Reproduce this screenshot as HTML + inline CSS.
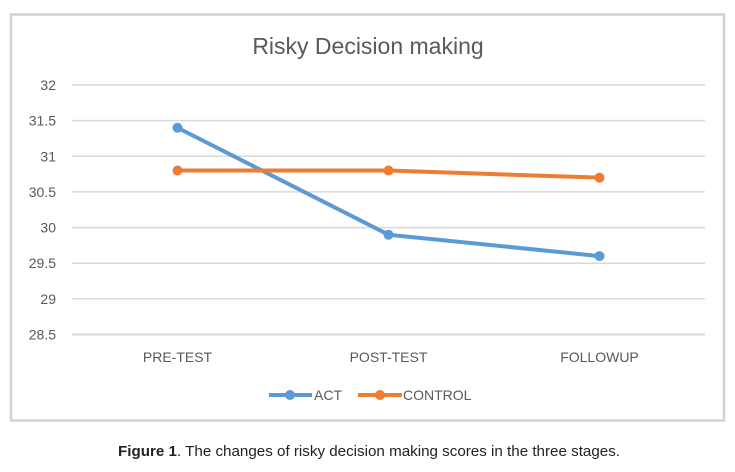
<!DOCTYPE html>
<html><head><meta charset="utf-8"><style>
body{margin:0;background:#fff;width:735px;height:467px;overflow:hidden}
svg text{font-family:"Liberation Sans",sans-serif}
</style></head><body>
<svg width="735" height="467">
<rect x="11" y="14.5" width="713" height="406" fill="#fff" stroke="#d0d3d6" stroke-width="2.5"/>
<text x="368" y="54" text-anchor="middle" font-size="23" fill="#595959">Risky Decision making</text>
<g id="grid"></g><g id="series"></g>
<g>
<g><line x1="269" y1="395" x2="312" y2="395" stroke="#5b9bd5" stroke-width="4"/><circle cx="290" cy="395" r="5" fill="#5b9bd5"/><text x="314" y="400" font-size="14" fill="#595959">ACT</text></g>
<g><line x1="358" y1="395" x2="402" y2="395" stroke="#ed7d31" stroke-width="4"/><circle cx="380" cy="395" r="5" fill="#ed7d31"/><text x="403" y="400" font-size="14" fill="#595959">CONTROL</text></g>
</g>
<text x="369" y="456" text-anchor="middle" font-size="15" fill="#222" textLength="502" lengthAdjust="spacingAndGlyphs"><tspan font-weight="bold">Figure 1</tspan>. The changes of risky decision making scores in the three stages.</text>
</svg>
<script>
const categories=["PRE-TEST","POST-TEST","FOLLOWUP"];
const actValues=[31.4,29.9,29.6];
const controlValues=[30.8,30.8,30.7];
const yTicks=[28.5,29,29.5,30,30.5,31,31.5,32];
const ns="http://www.w3.org/2000/svg";
const L=72,R=705,yMin=28.5,yMax=32,yTop=85,yBot=334.5;
const y=v=>yBot-(v-yMin)/(yMax-yMin)*(yBot-yTop);
const x=i=>L+(R-L)/categories.length*(i+0.5);
function mk(t,a,p){const e=document.createElementNS(ns,t);for(const k in a)e.setAttribute(k,a[k]);p.appendChild(e);return e;}
const g=document.getElementById('grid'),s=document.getElementById('series');
yTicks.forEach(v=>{
 const l=mk('line',{x1:L,x2:R,y1:y(v),y2:y(v),stroke:'#d9d9d9','stroke-width':v===yMin?2:1.5},g);
 
 
 const t=mk('text',{x:56,y:y(v)+5,'text-anchor':'end','font-size':14,fill:'#595959'},g);t.textContent=String(v);
 
 
});
categories.forEach((c,i)=>{
 const t=mk('text',{x:x(i),y:362,'text-anchor':'middle','font-size':14,fill:'#595959'},g);t.textContent=c;
 
 
});
[[actValues,'#5b9bd5','act'],[controlValues,'#ed7d31','control']].forEach(([vals,col,n])=>{
 const p=mk('polyline',{points:vals.map((v,i)=>x(i)+','+y(v)).join(' '),fill:'none',stroke:col,'stroke-width':4,'stroke-linejoin':'round'},s);
 
 
 vals.forEach((v,i)=>{const c=mk('circle',{cx:x(i),cy:y(v),r:5,fill:col},s);
  
  });
});
</script>
</body></html>
